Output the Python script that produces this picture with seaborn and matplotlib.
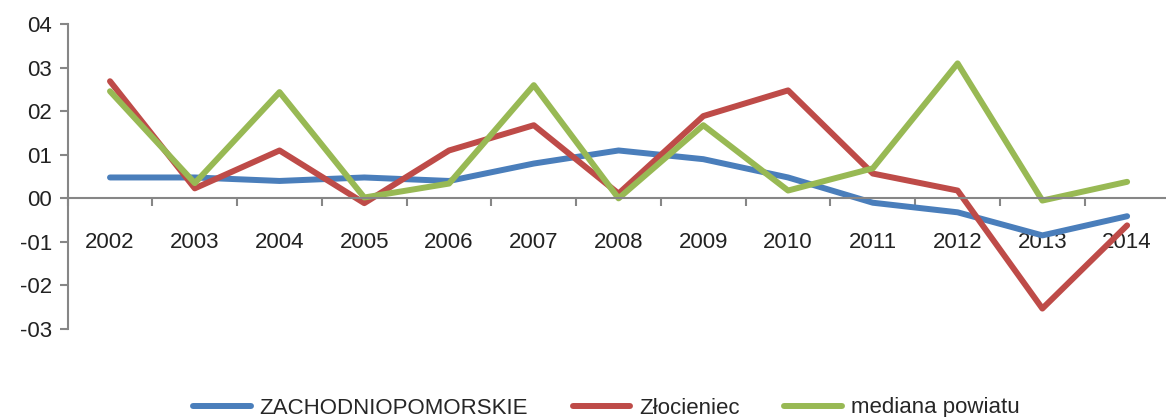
import numpy as np
import pandas as pd
import matplotlib
matplotlib.use("Agg")
import matplotlib.pyplot as plt
import seaborn as sns

# dane
lata = ["2002", "2003", "2004", "2005", "2006", "2007", "2008",
        "2009", "2010", "2011", "2012", "2013", "2014"]
zachodniopomorskie = [0.0048, 0.0048, 0.0040, 0.0048, 0.0040, 0.0080, 0.0110,
                      0.0090, 0.0048, -0.0010, -0.0032, -0.0085, -0.0041]
zlocieniec = [0.0269, 0.0023, 0.0110, -0.0011, 0.0110, 0.0168, 0.0011,
              0.0189, 0.0248, 0.0057, 0.0018, -0.0253, -0.0062]
mediana_powiatu = [0.0246, 0.0035, 0.0244, 0.0002, 0.0034, 0.0260, 0.0000,
                   0.0168, 0.0018, 0.0069, 0.0310, -0.0005, 0.0038]
serie = ["ZACHODNIOPOMORSKIE", "Złocieniec", "mediana powiatu"]
y_ticks = [0.04, 0.03, 0.02, 0.01, 0.0, -0.01, -0.02, -0.03]
y_labels = ["04", "03", "02", "01", "00", "-01", "-02", "-03"]

df = pd.DataFrame({
    "rok": list(range(len(lata))) * 3,
    "wartosc": zachodniopomorskie + zlocieniec + mediana_powiatu,
    "seria": [serie[0]] * 13 + [serie[1]] * 13 + [serie[2]] * 13,
})

sns.set_style("white")
plt.rcParams["font.family"] = ["Liberation Sans", "DejaVu Sans"]

fig = plt.figure(figsize=(11.66, 4.17), dpi=100)
ax = fig.add_axes([0.058, 0.211, 0.945, 0.731])

kolory = ["#4A7EBB", "#BE4B48", "#98B954"]
sns.lineplot(data=df, x="rok", y="wartosc", hue="seria", hue_order=serie,
             palette=kolory, linewidth=4.3, ax=ax, legend=True)

ax.set_xlim(-0.5, len(lata) - 0.5)
ax.set_ylim(-0.03, 0.04)
ax.set_yticks(y_ticks)
ax.set_yticklabels(y_labels)
ax.set_xticks(range(len(lata)))
ax.set_xticklabels(lata)
ax.set_xticks(np.arange(-0.5, len(lata), 1.0), minor=True)
ax.set_xlabel("")
ax.set_ylabel("")

for s in ["top", "right"]:
    ax.spines[s].set_visible(False)
ax.spines["bottom"].set_position(("data", 0))
ax.spines["bottom"].set_color("#868686")
ax.spines["left"].set_color("#868686")
ax.spines["bottom"].set_linewidth(1.5)
ax.spines["left"].set_linewidth(1.5)
ax.tick_params(axis="x", which="major", length=0, pad=24, labelsize=16,
               labelcolor="#222222", bottom=True)
ax.tick_params(axis="x", which="minor", length=6, width=1.5, color="#868686",
               direction="out", bottom=True)
ax.tick_params(axis="y", length=6, width=1.5, color="#868686", direction="out",
               pad=5, labelsize=16, labelcolor="#222222", left=True)

h, l = ax.get_legend_handles_labels()
ax.legend_.remove()
fig.legend(h, l, loc="center", bbox_to_anchor=(0.52, 1 - 408 / 417), ncol=3,
           frameon=False, fontsize=16, handlelength=2.6, columnspacing=2.0,
           handletextpad=0.4)

fig.savefig("out.png", dpi=100)
